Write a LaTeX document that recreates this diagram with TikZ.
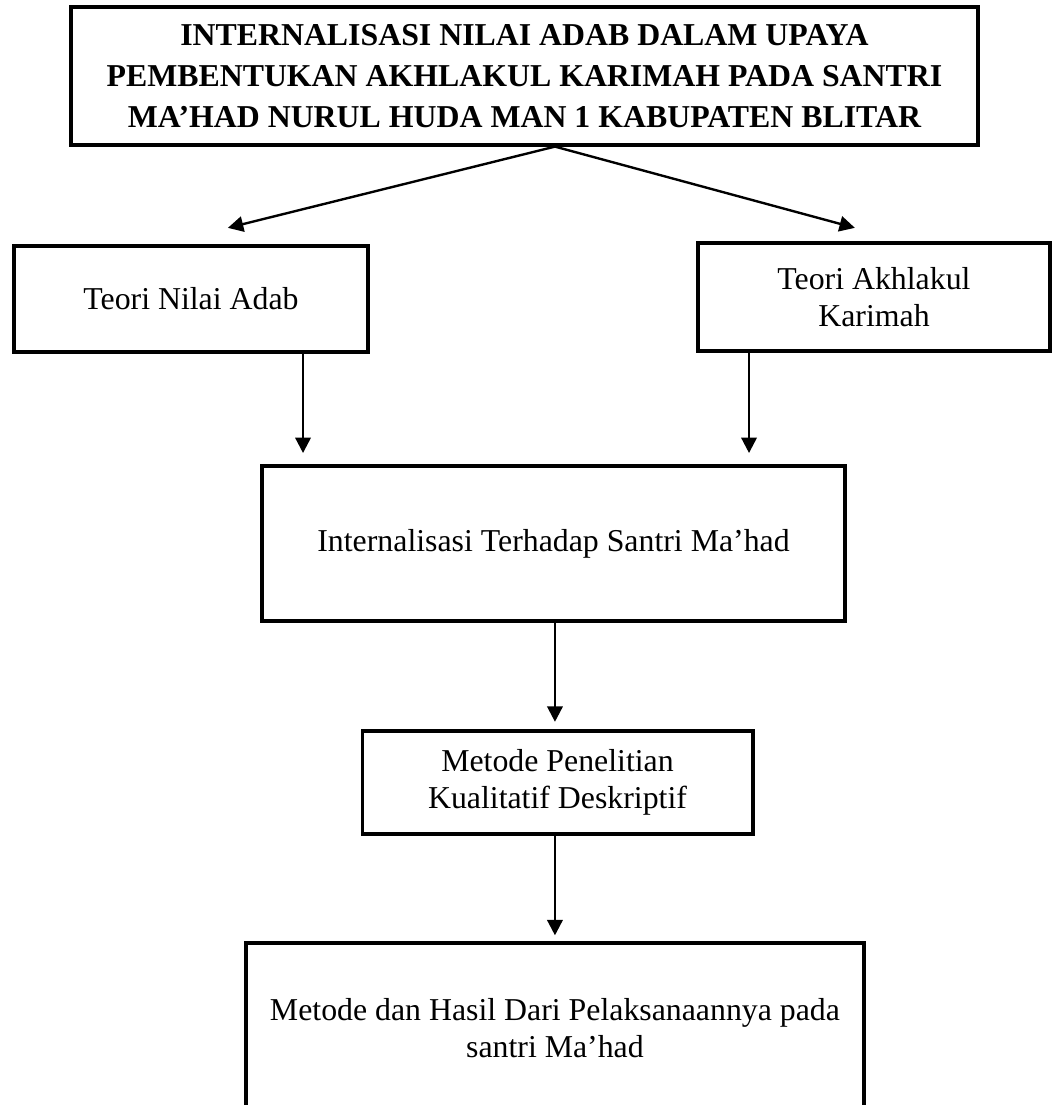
\documentclass[tikz,border=0pt]{standalone}
\usepackage{fontspec}
\setmainfont{Liberation Serif}
\usetikzlibrary{arrows.meta,calc}

\begin{document}
\begin{tikzpicture}[
    >={Triangle[length=5.8pt,width=5.8pt]},
    box/.style={draw, line width=1.2pt, align=center, inner sep=0pt,
        font=\fontsize{12}{14.2}\selectfont},
    link/.style={->, line width=0.9pt}
]
    \useasboundingbox (0,0) rectangle (13.94,-14.645);

    % judul
    \node[box, minimum width=12.02cm, minimum height=1.83cm,
        font=\bfseries\fontsize{12}{15.5}\selectfont] (judul) at (6.951,-1.007)
        {INTERNALISASI NILAI ADAB DALAM UPAYA\\
         PEMBENTUKAN AKHLAKUL KARIMAH PADA SANTRI\\
         MA’HAD NURUL HUDA MAN 1 KABUPATEN BLITAR};

    % teori
    \node[box, minimum width=4.69cm, minimum height=1.405cm] (nilai) at (2.531,-3.963) {Teori Nilai Adab};
    \node[box, minimum width=4.665cm, minimum height=1.431cm] (akhlak) at (11.583,-3.936) {Teori Akhlakul\\Karimah};

    \node[box, minimum width=7.727cm, minimum height=2.054cm] (intern) at (7.336,-7.203) {Internalisasi Terhadap Santri Ma’had};
    \node[box, minimum width=5.18cm, minimum height=1.365cm] (metode) at (7.389,-10.37) {Metode Penelitian\\Kualitatif Deskriptif};
    \node[box, minimum width=8.19cm, minimum height=2.253cm] (hasil) at (7.355,-13.624) {Metode dan Hasil Dari Pelaksanaannya pada\\santri Ma’had};

    % panah
    \coordinate (cabang) at ($(judul.south)+(0.404,0)$);
    \coordinate (ujungKiri) at (3.02,-3.02);
    \coordinate (ujungKanan) at (11.33,-3.02);
    \coordinate (ujungA) at (4.016,-6.004);
    \coordinate (ujungB) at (9.927,-6.004);

    \draw[link] (cabang) -- (ujungKiri);
    \draw[link] (cabang) -- (ujungKanan);
    \draw[link] (nilai.south -| ujungA) -- (ujungA);
    \draw[link] (akhlak.south -| ujungB) -- (ujungB);
    \draw[link] (intern.south -| hasil.north) -- ($(metode.north -| hasil.north)+(0,0.1)$);
    \draw[link] (metode.south -| hasil.north) -- ($(hasil.north)+(0,0.08)$);
\end{tikzpicture}
\end{document}
